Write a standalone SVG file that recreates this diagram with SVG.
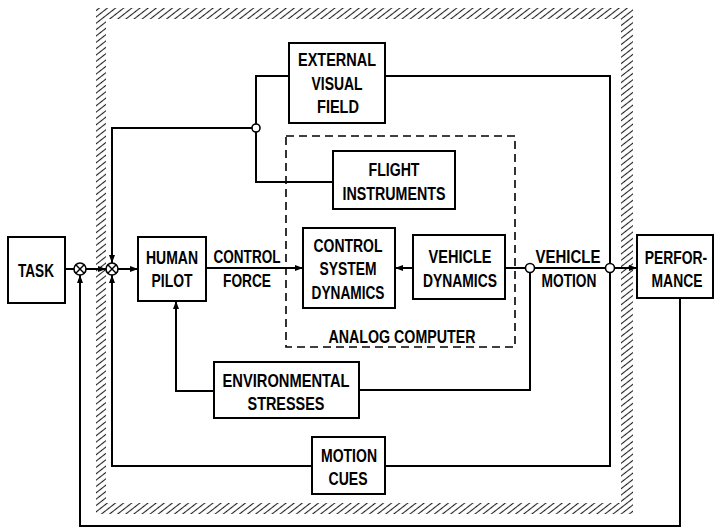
<svg xmlns="http://www.w3.org/2000/svg" width="715" height="530" viewBox="0 0 715 530">
<defs>
<marker id="arr" markerUnits="userSpaceOnUse" markerWidth="8" markerHeight="6" refX="8" refY="3" orient="auto">
<path d="M0,0 L8,3 L0,6 z" fill="#000"/>
</marker>
<pattern id="hatch" patternUnits="userSpaceOnUse" width="10" height="5" patternTransform="rotate(-38)">
<line x1="0" y1="2.5" x2="10" y2="2.5" stroke="#222" stroke-width="1.1"/>
</pattern>
<style>
.box{fill:#fff;stroke:#000;stroke-width:2}
.ln{fill:none;stroke:#000;stroke-width:2}
.dash{fill:none;stroke:#000;stroke-width:1.6;stroke-dasharray:8 5}
.tp{fill:#fff;stroke:#000;stroke-width:1.6}
text{font-family:"Liberation Sans",Arial,sans-serif;font-weight:bold;font-size:18.5px;text-anchor:middle;fill:#000}
</style>
</defs>
<rect width="715" height="530" fill="#fff"/>

<g id="frame">
<path d="M96,8 H633 V514 H96 Z M106,19 V503 H621 V19 Z" fill="url(#hatch)" fill-rule="evenodd"/>
</g>

<g id="analog-computer">
<rect class="dash" x="286" y="136" width="229" height="211"/>
<text x="402" y="343" textLength="147" lengthAdjust="spacingAndGlyphs">ANALOG COMPUTER</text>
</g>

<g id="connectors">
<line class="ln" x1="65" y1="269" x2="74" y2="269"/>
<line class="ln" x1="86" y1="269" x2="106" y2="269" marker-end="url(#arr)"/>
<line class="ln" x1="118" y1="269" x2="138" y2="269" marker-end="url(#arr)"/>
<line class="ln" x1="206" y1="268" x2="303" y2="268" marker-end="url(#arr)"/>
<line class="ln" x1="413" y1="268" x2="395" y2="268" marker-end="url(#arr)"/>
<line class="ln" x1="505" y1="268" x2="637" y2="268" marker-end="url(#arr)"/>
<polyline class="ln" points="530,268 530,390 359,390"/>
<polyline class="ln" points="214,391 176,391 176,301" marker-end="url(#arr)"/>
<polyline class="ln" points="385,76 610,76 610,466 385,466"/>
<polyline class="ln" points="312,466 112,466 112,275" marker-end="url(#arr)"/>
<polyline class="ln" points="289,76 256,76 256,182 333,182"/>
<polyline class="ln" points="256,128 112,128 112,263" marker-end="url(#arr)"/>
<polyline class="ln" points="680,298 680,526 80,526 80,275" marker-end="url(#arr)"/>
<circle class="tp" cx="256" cy="128" r="4"/>
<circle class="tp" cx="530" cy="268" r="4.5"/>
<circle class="tp" cx="610" cy="268" r="4.5"/>
<text x="247" y="263" textLength="67" lengthAdjust="spacingAndGlyphs">CONTROL</text>
<text x="247" y="287" textLength="48" lengthAdjust="spacingAndGlyphs">FORCE</text>
<text x="568" y="263" textLength="65" lengthAdjust="spacingAndGlyphs">VEHICLE</text>
<text x="569" y="287" textLength="55" lengthAdjust="spacingAndGlyphs">MOTION</text>
</g>

<g id="sum1">
<circle class="tp" cx="80" cy="269" r="6"/>
<path class="ln" style="stroke-width:1.4" d="M75.8,264.8 L84.2,273.2 M84.2,264.8 L75.8,273.2"/>
</g>
<g id="sum2">
<circle class="tp" cx="112" cy="269" r="6"/>
<path class="ln" style="stroke-width:1.4" d="M107.8,264.8 L116.2,273.2 M116.2,264.8 L107.8,273.2"/>
</g>

<g id="task">
<rect class="box" x="8" y="237" width="57" height="66"/>
<text x="36" y="277" textLength="36" lengthAdjust="spacingAndGlyphs">TASK</text>
</g>

<g id="human-pilot">
<rect class="box" x="138" y="237" width="68" height="64"/>
<text x="172" y="264" textLength="52" lengthAdjust="spacingAndGlyphs">HUMAN</text>
<text x="172" y="287" textLength="41" lengthAdjust="spacingAndGlyphs">PILOT</text>
</g>

<g id="external-visual-field">
<rect class="box" x="289" y="43" width="96" height="80"/>
<text x="337" y="66" textLength="78" lengthAdjust="spacingAndGlyphs">EXTERNAL</text>
<text x="337" y="90" textLength="51" lengthAdjust="spacingAndGlyphs">VISUAL</text>
<text x="338" y="113" textLength="42" lengthAdjust="spacingAndGlyphs">FIELD</text>
</g>

<g id="flight-instruments">
<rect class="box" x="333" y="151" width="122" height="58"/>
<text x="394" y="176" textLength="51" lengthAdjust="spacingAndGlyphs">FLIGHT</text>
<text x="394" y="200" textLength="103" lengthAdjust="spacingAndGlyphs">INSTRUMENTS</text>
</g>

<g id="control-system-dynamics">
<rect class="box" x="303" y="228" width="92" height="80"/>
<text x="348" y="252" textLength="69" lengthAdjust="spacingAndGlyphs">CONTROL</text>
<text x="348" y="275" textLength="57" lengthAdjust="spacingAndGlyphs">SYSTEM</text>
<text x="348" y="299" textLength="73" lengthAdjust="spacingAndGlyphs">DYNAMICS</text>
</g>

<g id="vehicle-dynamics">
<rect class="box" x="413" y="235" width="92" height="64"/>
<text x="460" y="263" textLength="63" lengthAdjust="spacingAndGlyphs">VEHICLE</text>
<text x="460" y="287" textLength="74" lengthAdjust="spacingAndGlyphs">DYNAMICS</text>
</g>

<g id="performance">
<rect class="box" x="637" y="235" width="76" height="63"/>
<text transform="translate(676,264) scale(0.75,1)">PERFOR-</text>
<text transform="translate(677,287) scale(0.75,1)">MANCE</text>
</g>

<g id="environmental-stresses">
<rect class="box" x="214" y="362" width="145" height="56"/>
<text x="286" y="387" textLength="127" lengthAdjust="spacingAndGlyphs">ENVIRONMENTAL</text>
<text x="286" y="410" textLength="77" lengthAdjust="spacingAndGlyphs">STRESSES</text>
</g>

<g id="motion-cues">
<rect class="box" x="312" y="437" width="73" height="57"/>
<text x="349" y="462" textLength="56" lengthAdjust="spacingAndGlyphs">MOTION</text>
<text x="348" y="485" textLength="39" lengthAdjust="spacingAndGlyphs">CUES</text>
</g>
</svg>
